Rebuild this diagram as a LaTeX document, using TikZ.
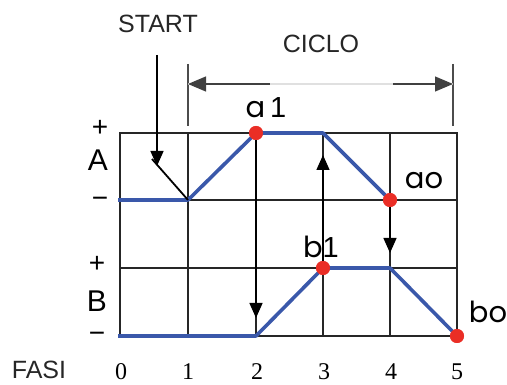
\documentclass[tikz,border=0pt]{standalone}
\usepackage{fontspec}
\setmainfont{Liberation Sans}
\newfontfamily\lblfont{Poppins}
\newfontfamily\numfont{Liberation Serif}
\usetikzlibrary{arrows.meta}
\definecolor{sigblue}{RGB}{58,88,170}
\definecolor{dotred}{RGB}{234,46,38}
\begin{document}
\begin{tikzpicture}[x=1pt,y=-1pt,
  gridline/.style={line width=1.5pt, black!85},
  sig/.style={line width=3.6pt, draw=sigblue, line join=round},
  dot/.style={circle, fill=dotred, inner sep=0pt, minimum size=14pt},
  tri/.style={-{Triangle[length=15pt,width=13pt]}, line width=1.4pt, black},
  tick/.style={line width=1.2pt, black!70},
  title/.style={font=\fontsize{25}{25}\selectfont, text=black!85, inner sep=0pt},
  sign/.style={font=\fontsize{28}{28}\selectfont, inner sep=0pt},
  axis/.style={font=\fontsize{30}{30}\selectfont, inner sep=0pt},
  lbl/.style={font=\lblfont\fontsize{29}{29}\selectfont, inner sep=0pt, anchor=base},
  num/.style={font=\numfont\fontsize{24}{24}\selectfont, inner sep=0pt}
]
\useasboundingbox (0,0) rectangle (507,385);
% grid
\draw[gridline] (120,133) rectangle (457,336);
\foreach \yy in {200,268} \draw[gridline] (120,\yy) -- (457,\yy);
\foreach \xx in {188,256,323,390} \draw[gridline] (\xx,133) -- (\xx,336);
% coordinates
\coordinate (A0) at (118,200);
\coordinate (A1) at (188,200);
\coordinate (A3) at (323,133);
\coordinate (B0) at (118,336);
\coordinate (B2) at (256,336);
\coordinate (B4) at (390,268);
% dots
\node[dot] (a1) at (256,133) {};
\node[dot] (ao) at (390,200) {};
\node[dot] (b1) at (323,268) {};
\node[dot] (bo) at (457,336) {};
% signals
\draw[sig] (A0) -- (A1) -- (a1.center) -- (A3) -- (ao.center);
\draw[sig] (B0) -- (B2) -- (b1.center) -- (B4) -- (bo.center);
% sequence arrows
\coordinate (t2) at (256,318);
\coordinate (t3) at (323,155);
\coordinate (t4) at (390,253);
\draw[tri] (a1.center) -- (t2);
\draw[tri] (b1.center) -- (t3);
\draw[tri] (ao.center) -- (t4);
\node[dot] at (a1) {};
\node[dot] at (ao) {};
\node[dot] at (b1) {};
\node[dot] at (bo) {};
% start
\node[title] (start) at (158,24) {START};
\coordinate (s0) at (157,55);
\coordinate (s1) at (157,166);
\coordinate (s2) at (152,159);
\draw[tri] (s0) -- (s1);
\draw[line width=1.8pt] (s2) -- (A1);
% ciclo
\node[title] (ciclo) at (321,44) {CICLO};
\coordinate (k1a) at (188,64); \coordinate (k1b) at (188,126);
\coordinate (k5a) at (453,64); \coordinate (k5b) at (453,126);
\draw[tick] (k1a) -- (k1b);
\draw[tick] (k5a) -- (k5b);
\coordinate (d1) at (188,84); \coordinate (d5) at (453,84);
\coordinate (d2) at (270,84); \coordinate (d4) at (393,84);
\draw[line width=1.2pt, black!12] (d1) -- (d5);
\draw[line width=1.2pt, black!75, {Triangle[length=18pt,width=15pt]}-] (d1) -- (d2);
\draw[line width=1.2pt, black!75, -{Triangle[length=18pt,width=15pt]}] (d4) -- (d5);
% axis labels
\node[sign] (Ap) at (100,128) {+};
\node[axis] (A) at (98,160) {A};
\node[sign] (Am) at (100,202) {−};
\node[sign] (Bp) at (97,264) {+};
\node[axis] (B) at (97,301) {B};
\node[sign] (Bm) at (97,337) {−};
% point labels
\node[lbl] (la1) at (266,118) {a\fontspec{Liberation Sans}\,1};
\node[lbl] (lao) at (424,189) {ao};
\node[lbl] (lb1) at (321,258) {b\fontspec{Liberation Sans}1};
\node[lbl] (lbo) at (488,323) {bo};
% phases
\node[title] (fasi) at (39,370) {FASI};
\foreach \n/\xx in {0/121,1/188,2/257,3/324,4/391,5/457}
  \node[num] (f\n) at (\xx,372) {\n};
\end{tikzpicture}
\end{document}
